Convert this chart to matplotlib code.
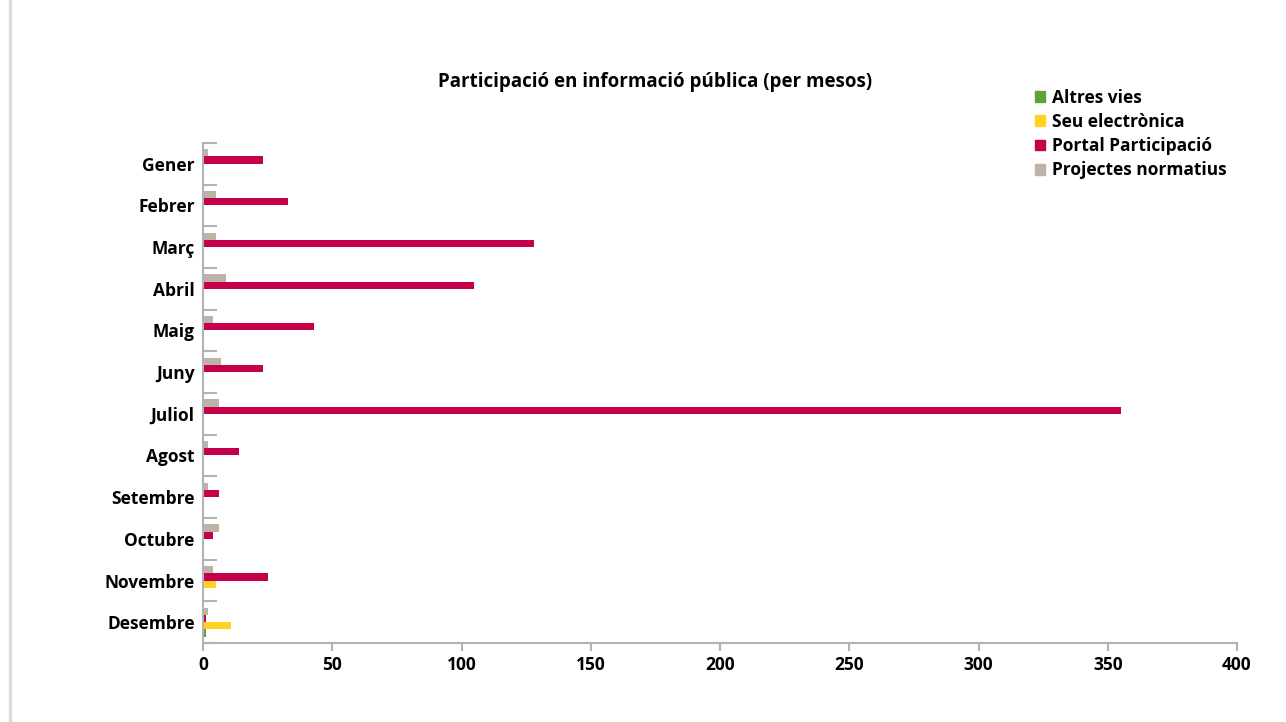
import numpy as np
import matplotlib.pyplot as plt
from matplotlib.patches import Patch
from matplotlib.lines import Line2D

mesos = ["Gener", "Febrer", "Març", "Abril", "Maig", "Juny", "Juliol",
         "Agost", "Setembre", "Octubre", "Novembre", "Desembre"]
projectes = [2, 5, 5, 9, 4, 7, 6, 2, 2, 6, 4, 2]
portal = [23, 33, 128, 105, 43, 23, 355, 14, 6, 4, 25, 1]
seu = [0, 0, 0, 0, 0, 0, 0, 0, 0, 0, 5, 11]
altres = [0, 0, 0, 0, 0, 0, 0, 0, 0, 0, 0, 1]

c_proj = "#bdb3a7"
c_portal = "#c5004a"
c_seu = "#ffd320"
c_altres = "#5ea335"
c_axis = "#b3b3b3"

plt.rcParams['font.family'] = ['Open Sans', 'DejaVu Sans']

fig = plt.figure(figsize=(12.86, 7.22), dpi=100)
ax = fig.add_axes([0.1579, 0.1094, 0.8040, 0.6926])

y = np.arange(len(mesos))
h = 0.175
ax.barh(y - 1.5 * h, projectes, height=h, color=c_proj)
ax.barh(y - 0.5 * h, portal, height=h, color=c_portal)
ax.barh(y + 0.5 * h, seu, height=h, color=c_seu)
ax.barh(y + 1.5 * h, altres, height=h, color=c_altres)

ax.set_xlim(0, 400)
ax.set_ylim(len(mesos) - 0.5, -0.5)
ax.set_xticks(np.arange(0, 401, 50))
ax.set_yticks(y)
ax.set_yticklabels(mesos, fontsize=12.5, fontweight="bold")
ax.set_yticks(np.arange(-0.5, len(mesos), 1), minor=True)
for lab in ax.get_xticklabels():
    lab.set_fontsize(12.5)
    lab.set_fontweight("bold")

ax.tick_params(axis="y", which="major", length=0, pad=6)
ax.tick_params(axis="y", which="minor", direction="in", length=10, width=1.5, color=c_axis)
ax.tick_params(axis="x", direction="out", length=6, width=1.5, color=c_axis, pad=3)

for s in ["top", "right"]:
    ax.spines[s].set_visible(False)
for s in ["left", "bottom"]:
    ax.spines[s].set_color(c_axis)
    ax.spines[s].set_linewidth(1.5)

fig.text(0.509, 0.886, "Participació en informació pública (per mesos)",
         ha="center", va="center", fontsize=13.5, fontweight="bold")

handles = [Patch(color=c_altres), Patch(color=c_seu),
           Patch(color=c_portal), Patch(color=c_proj)]
names = ["Altres vies", "Seu electrònica", "Portal Participació", "Projectes normatius"]
leg = fig.legend(handles, names, loc="upper left", bbox_to_anchor=(0.793, 0.899),
                 frameon=False, handlelength=0.57, handleheight=0.57,
                 handletextpad=0.4, labelspacing=0.36,
                 prop={"size": 12.5, "weight": "bold"})

# vora esquerra de la captura
fig.add_artist(Line2D([0.0075, 0.0075], [0, 1], color="#dcdcdc", lw=2.5,
                      transform=fig.transFigure))

fig.savefig("out.png", dpi=100)
